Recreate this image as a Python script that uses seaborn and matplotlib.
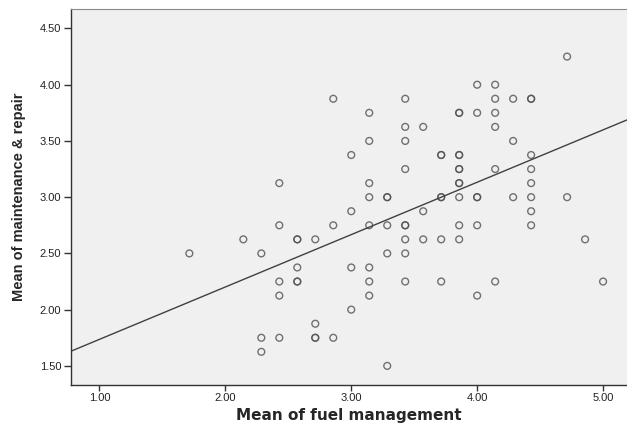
import matplotlib
matplotlib.use("Agg")
import matplotlib.pyplot as plt
import seaborn as sns
import pandas as pd
from matplotlib.ticker import FormatStrFormatter

# fuel management means are multiples of 1/7, maintenance & repair of 1/8
# (duplicated points show as darker circles in the reference)
fuel = [
    33,
    28, 29,
    20, 24, 29, 30, 31, 31,
    22, 27, 27, 28, 29,
    24, 25, 29,
    22, 24, 30,
    21, 26, 26, 27, 27, 31,
    24, 27, 27, 29, 31,
    17, 22, 27, 27, 31,
    22, 23, 23, 26, 26, 27, 28, 28, 30, 31, 33,
    21, 25, 31,
    17, 20, 22, 23, 24, 24, 27, 28, 31,
    15, 18, 18, 19, 24, 25, 26, 27, 34,
    12, 16, 23, 24,
    18, 21, 22,
    17, 18, 18, 22, 24, 26, 29, 35,
    17, 22, 28,
    21,
    19,
    16, 17, 19, 19, 20,
    16,
    23,
]
repair = [
    4.25,
    4.0, 4.0,
    3.875, 3.875, 3.875, 3.875, 3.875, 3.875,
    3.75, 3.75, 3.75, 3.75, 3.75,
    3.625, 3.625, 3.625,
    3.5, 3.5, 3.5,
    3.375, 3.375, 3.375, 3.375, 3.375, 3.375,
    3.25, 3.25, 3.25, 3.25, 3.25,
    3.125, 3.125, 3.125, 3.125, 3.125,
    3.0, 3.0, 3.0, 3.0, 3.0, 3.0, 3.0, 3.0, 3.0, 3.0, 3.0,
    2.875, 2.875, 2.875,
    2.75, 2.75, 2.75, 2.75, 2.75, 2.75, 2.75, 2.75, 2.75,
    2.625, 2.625, 2.625, 2.625, 2.625, 2.625, 2.625, 2.625, 2.625,
    2.5, 2.5, 2.5, 2.5,
    2.375, 2.375, 2.375,
    2.25, 2.25, 2.25, 2.25, 2.25, 2.25, 2.25, 2.25,
    2.125, 2.125, 2.125,
    2.0,
    1.875,
    1.75, 1.75, 1.75, 1.75, 1.75,
    1.625,
    1.5,
]

df = pd.DataFrame({"fuel": [v / 7 for v in fuel], "repair": repair})

x_ticks = [1.0, 2.0, 3.0, 4.0, 5.0]
y_ticks = [1.5, 2.0, 2.5, 3.0, 3.5, 4.0, 4.5]

sns.set_style("ticks")
plt.rcParams["font.family"] = ["Liberation Sans", "DejaVu Sans"]

fig = plt.figure(figsize=(6.27, 4.25), dpi=100)
ax = fig.add_axes([0.1132, 0.0941, 0.8868, 0.8839])
ax.set_facecolor("#f0f0f0")

# limits first so the fit line runs across the whole frame
ax.set_xlim(0.774, 5.19)
ax.set_ylim(1.33, 4.67)

sns.regplot(data=df, x="fuel", y="repair", ax=ax, ci=None, truncate=False,
            scatter_kws=dict(s=24, facecolors="none", edgecolors="#505050", linewidths=1.0),
            line_kws=dict(color="#404040", linewidth=1.0), marker="o")

ax.set_xlim(0.774, 5.19)
ax.set_ylim(1.33, 4.67)
ax.set_xticks(x_ticks)
ax.set_yticks(y_ticks)
ax.xaxis.set_major_formatter(FormatStrFormatter("%.2f"))
ax.yaxis.set_major_formatter(FormatStrFormatter("%.2f"))
ax.tick_params(labelsize=8, width=1, color="#333333", labelcolor="#222222")
ax.tick_params(axis="x", length=4, pad=2)
ax.tick_params(axis="y", length=5, pad=2)

for side in ["left", "bottom"]:
    ax.spines[side].set_color("#333333")
    ax.spines[side].set_linewidth(1.0)
ax.spines["top"].set_color("#888888")
ax.spines["right"].set_visible(False)

ax.set_xlabel("Mean of fuel management", fontsize=11, fontweight="bold",
              family="DejaVu Sans", labelpad=3)
ax.set_ylabel("Mean of maintenance & repair", fontsize=10.5, fontweight="bold",
              family=["Liberation Sans Narrow", "Liberation Sans"], labelpad=10)

fig.savefig("out.png", dpi=100)
